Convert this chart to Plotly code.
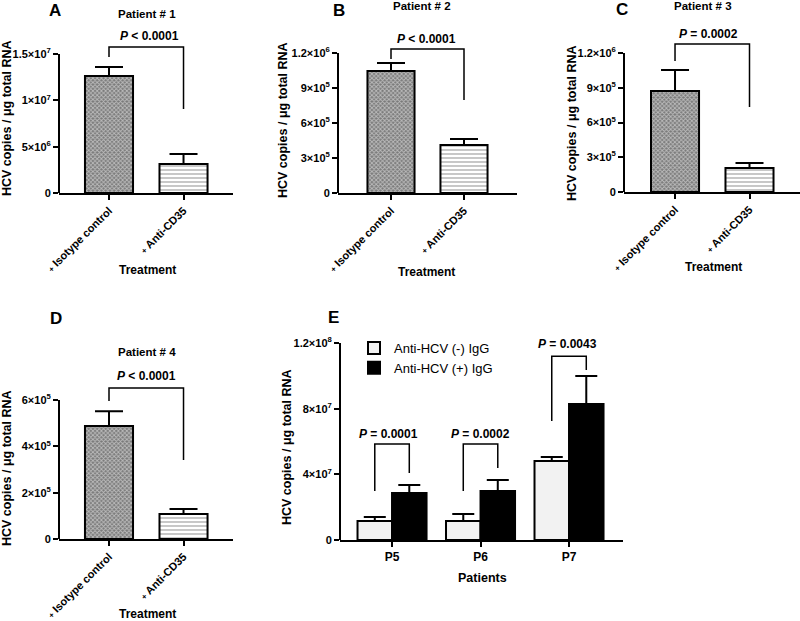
import plotly.graph_objects as go

W, H = 800, 621
F = "Liberation Sans, Arial, sans-serif"

# ---------------- data ----------------
treatments = ["<span style='font-size:8px'>+</span> Isotype control",
              "<span style='font-size:8px'>+</span> Anti-CD35"]

p1_mean = [1.263e7, 3.13e6]
p1_err = [0.97e6, 1.07e6]
p2_mean = [1.046e6, 4.11e5]
p2_err = [6.8e4, 5.2e4]
p3_mean = [8.72e5, 2.07e5]
p3_err = [1.81e5, 4.3e4]
p4_mean = [4.88e5, 1.08e5]
p4_err = [6.4e4, 2.1e4]

patients = ["P5", "P6", "P7"]
neg_mean = [1.16e7, 1.16e7, 4.81e7]
neg_err = [2.4e6, 4.2e6, 2.4e6]
pos_mean = [2.86e7, 2.98e7, 8.28e7]
pos_err = [4.9e6, 6.7e6, 1.71e7]

# significance brackets: (top, left leg bottom, right leg bottom)
br1 = (1.576e7, 1.467e7, 9.06e6)
br2 = (1.234e6, 1.149e6, 7.97e5)
br3 = (1.278e6, 1.131e6, 7.34e5)
br4 = (6.52e5, 5.96e5, 3.41e5)
brE = [(5.85e7, 2.98e7, 4.08e7), (5.85e7, 2.98e7, 4.38e7), (1.12e8, 7.25e7, 1.035e8)]

pvals_AD = ["<i>P</i> < 0.0001", "<i>P</i> < 0.0001", "<i>P</i> = 0.0002", "<i>P</i> < 0.0001"]
pvals_E = ["<i>P</i> = 0.0001", "<i>P</i> = 0.0002", "<i>P</i> = 0.0043"]

ticks1 = ([0, 5e6, 1e7, 1.5e7], ["0", "5×10<sup>6</sup>", "1×10<sup>7</sup>", "1.5×10<sup>7</sup>"])
ticks23 = ([0, 3e5, 6e5, 9e5, 1.2e6], ["0", "3×10<sup>5</sup>", "6×10<sup>5</sup>", "9×10<sup>5</sup>", "1.2×10<sup>6</sup>"])
ticks4 = ([0, 2e5, 4e5, 6e5], ["0", "2×10<sup>5</sup>", "4×10<sup>5</sup>", "6×10<sup>5</sup>"])
ticksE = ([0, 4e7, 8e7, 1.2e8], ["0", "4×10<sup>7</sup>", "8×10<sup>7</sup>", "1.2×10<sup>8</sup>"])


def px(x):
    return x / W


def py(y):
    return 1 - y / H


fig = go.Figure()

pattern = dict(shape=["x", "-"], fgcolor=["#2a2a2a", "#444444"], bgcolor=["#7a7a7a", "white"],
               size=[3, 4], solidity=[0.5, 0.3])

panels = [
    ("", p1_mean, p1_err),
    ("2", p2_mean, p2_err),
    ("3", p3_mean, p3_err),
    ("4", p4_mean, p4_err),
]
for sfx, m, e in panels:
    fig.add_trace(go.Bar(
        x=[0, 1], y=m, width=0.645, xaxis="x" + sfx, yaxis="y" + sfx, showlegend=False,
        marker=dict(color=["#7a7a7a", "white"], line=dict(color="black", width=2), pattern=pattern),
        error_y=dict(type="data", array=e, arrayminus=[0, 0], symmetric=False,
                     color="black", thickness=2, width=14),
    ))

fig.add_trace(go.Bar(
    x=[0, 1, 2], y=neg_mean, name="Anti-HCV (-) IgG", xaxis="x5", yaxis="y5",
    marker=dict(color="#f2f2f2", line=dict(color="black", width=2)),
    error_y=dict(type="data", array=neg_err, arrayminus=[0, 0, 0], symmetric=False,
                 color="black", thickness=2, width=11),
))
fig.add_trace(go.Bar(
    x=[0, 1, 2], y=pos_mean, name="Anti-HCV (+) IgG", xaxis="x5", yaxis="y5",
    marker=dict(color="black", line=dict(color="black", width=2)),
    error_y=dict(type="data", array=pos_err, arrayminus=[0, 0, 0], symmetric=False,
                 color="black", thickness=2, width=11),
))

tickfont = dict(family=F, size=11, color="black", weight="bold")
xtickfont = dict(family=F, size=11, color="black", weight="bold")


def xax(dom, rng, anchor, vals, text, angle):
    return dict(domain=dom, range=rng, anchor=anchor, tickvals=vals, ticktext=text, tickangle=angle,
                showline=True, linewidth=2, linecolor="black", ticks="outside", ticklen=5,
                tickwidth=2, tickcolor="black", showgrid=False, zeroline=False, tickfont=xtickfont,
                automargin=False)


def yax(dom, rng, anchor, tk):
    return dict(domain=dom, range=rng, anchor=anchor, tickvals=tk[0], ticktext=tk[1],
                showline=False, ticks="outside", ticklen=5, tickwidth=2, tickcolor="black",
                showgrid=False, zeroline=False, tickfont=tickfont, automargin=False)


layout = dict(
    width=W, height=H, margin=dict(l=0, r=0, t=0, b=0, autoexpand=False),
    paper_bgcolor="white", plot_bgcolor="white",
    barmode="group", bargap=0.22, bargroupgap=0,
    font=dict(family=F, color="black"),
    xaxis=xax([px(59), px(233)], [-0.671, 1.664], "y", [0, 1], treatments, -45),
    yaxis=yax([py(193), py(40)], [0, 1.651e7], "x", ticks1),
    xaxis2=xax([px(338), px(517)], [-0.726, 1.726], "y2", [0, 1], treatments, -45),
    yaxis2=yax([py(193), py(40)], [0, 1.311e6], "x2", ticks23),
    xaxis3=xax([px(624), 1.0], [-0.685, 1.678], "y3", [0, 1], treatments, -45),
    yaxis3=yax([py(192), py(36)], [0, 1.347e6], "x3", ticks23),
    xaxis4=xax([px(59), px(233)], [-0.671, 1.664], "y4", [0, 1], treatments, -45),
    yaxis4=yax([py(539), py(380)], [0, 6.864e5], "x4", ticks4),
    xaxis5=xax([px(340), px(623)], [-0.588, 2.610], "y5", [0, 1, 2], patients, 0),
    yaxis5=yax([py(540), py(336)], [0, 1.2426e8], "x5", ticksE),
    legend=dict(x=px(354), y=py(333), xanchor="left", yanchor="top", bgcolor="rgba(0,0,0,0)",
                font=dict(family=F, size=13, color="black"), tracegroupgap=0),
)
layout["xaxis5"]["tickfont"] = dict(family=F, size=12, color="black", weight="bold")
fig.update_layout(**layout)

shapes = []
# y-axis lines from 0 to the top tick
for sfx, top in [("", 1.5e7), ("2", 1.2e6), ("3", 1.2e6), ("4", 6e5), ("5", 1.2e8)]:
    shapes.append(dict(type="line", xref="x" + sfx + " domain", yref="y" + sfx,
                       x0=0, x1=0, y0=0, y1=top, line=dict(color="black", width=2)))

# brackets A-D
for sfx, (top, l, r) in [("", br1), ("2", br2), ("3", br3), ("4", br4)]:
    shapes.append(dict(type="path", xref="x" + sfx, yref="y" + sfx,
                       path=f"M 0,{l} L 0,{top} L 1,{top} L 1,{r}",
                       line=dict(color="black", width=1.5)))
# brackets E
half = (1 - 0.22) / 4
for i, (top, l, r) in enumerate(brE):
    xl, xr = i - half, i + half
    shapes.append(dict(type="path", xref="x5", yref="y5",
                       path=f"M {xl},{l} L {xl},{top} L {xr},{top} L {xr},{r}",
                       line=dict(color="black", width=1.5)))
fig.update_layout(shapes=shapes)

ann = []


def text(x, y, s, size=11, angle=0, weight="bold"):
    ann.append(dict(x=px(x), y=py(y), xref="paper", yref="paper", text=s, showarrow=False,
                    textangle=angle, xanchor="center", yanchor="middle",
                    font=dict(family=F, size=size, color="black", weight=weight)))


# panel letters
for x, y, s in [(55, 11, "A"), (339, 11, "B"), (622, 10, "C"), (56, 318, "D"), (333, 317, "E")]:
    text(x, y, s, size=17)
# panel titles
for x, y, s in [(147, 14, "Patient # 1"), (422, 6, "Patient # 2"), (703, 6, "Patient # 3"), (147, 352, "Patient # 4")]:
    text(x, y, s, size=11.5)
# p-values
for (x, y), s in zip([(149, 36), (426, 39), (708, 34), (146, 376)], pvals_AD):
    text(x, y, s, size=12)
for (x, y), s in zip([(388, 434), (481, 434), (567, 344)], pvals_E):
    text(x, y, s, size=12)
# y titles
ytitle = "HCV copies / μg total RNA"
for x, y in [(7, 118), (283, 120), (572, 123), (7, 468), (287, 447)]:
    text(x, y, ytitle, size=12.5, angle=-90)
# x titles
for x, y in [(147, 270), (427, 272), (713, 267), (147, 614)]:
    text(x, y, "Treatment", size=12)
text(482, 578, "Patients", size=12.5)

fig.update_layout(annotations=ann)

fig.write_html("out.html", config={"displayModeBar": False},
               post_script="document.body.style.margin='0';document.body.style.overflow='hidden';")
